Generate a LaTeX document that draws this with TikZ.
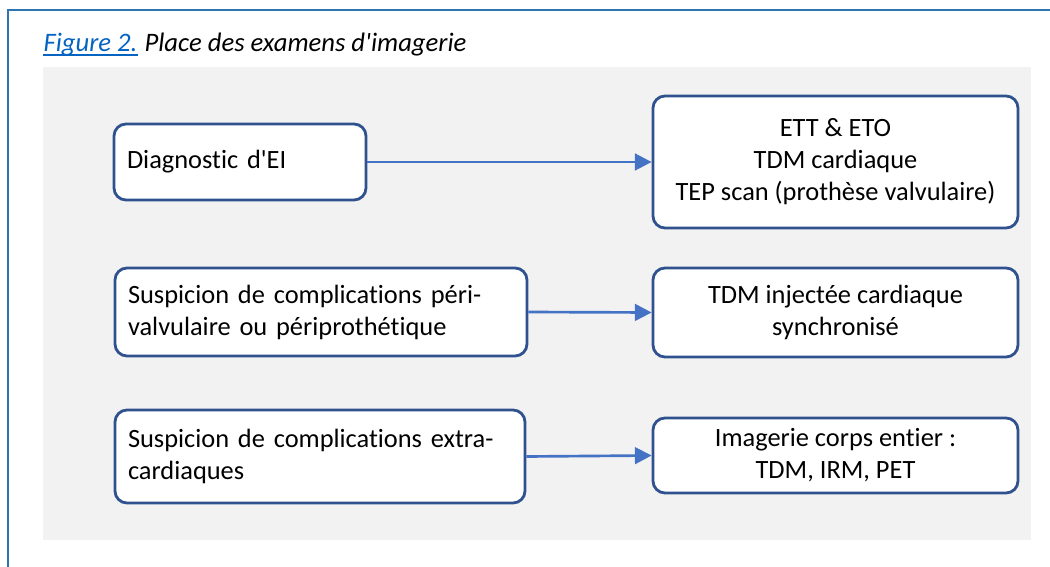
\documentclass[tikz,border=0pt]{standalone}
\usepackage{fontspec}
\setmainfont{Carlito}[Ligatures={TeX,NoCommon}]
\usepackage{xcolor}
\usepackage{tikz}
\usetikzlibrary{arrows.meta}

\definecolor{framecol}{RGB}{46,117,182}
\definecolor{boxcol}{RGB}{47,82,143}
\definecolor{arrcol}{RGB}{68,114,196}
\definecolor{graybg}{RGB}{242,242,242}
\definecolor{linkcol}{RGB}{5,99,193}

\begin{document}
\begin{tikzpicture}[x=0.75pt, y=-0.75pt, thick,
  box/.style = {draw=boxcol, line width=2.1pt, fill=white, rounded corners=9pt, inner xsep=9.75pt, inner ysep=0pt, font=\fontsize{19.8}{24}\selectfont},
  lbox/.style = {box, align=left},
  rbox/.style = {box, align=center, minimum width=273.75pt},
  legende/.style = {anchor=base west, inner sep=0pt, font=\fontsize{20}{24}\selectfont\itshape},
  arr/.style = {-{Triangle[length=12.5pt,width=12.5pt]}, draw=arrcol, line width=2pt}]
\useasboundingbox (0,0) rectangle (1050,567);
\fill[graybg] (43,67) rectangle (1031,540);
\draw[framecol, line width=1.5pt] (8,567) -- (8,10) -- (1050,10);

% legende
\node[legende, text=linkcol] (fig) at (43,52) {Figure 2.};
\node[legende] (titre) at ([xshift=4.5pt]fig.base east) {Place des examens d\textquotesingle imagerie};
\draw[linkcol, line width=1.1pt] ([yshift=-2.4pt]fig.base west) -- ([yshift=-2.4pt]fig.base east);

% cases
\node[lbox, text width=169.5pt, minimum height=57pt] (diag) at (240,162) {Diagnostic d\textquotesingle EI};
\node[rbox, minimum height=99pt] (ett) at (835.5,162) {ETT \& ETO\\TDM cardiaque\\TEP scan (prothèse valvulaire)};
\node[lbox, text width=289.5pt, minimum height=66pt] (peri) at (321,312) {Suspicion de complications péri-\\valvulaire ou périprothétique};
\node[rbox, minimum height=66.75pt] (tdm) at (835.5,312.5) {TDM injectée cardiaque\\synchronisé};
\node[lbox, text width=288pt, minimum height=69.75pt] (extra) at (320,456.5) {Suspicion de complications extra-\\cardiaques};
\node[rbox, minimum height=56.25pt] (imag) at (835.5,455.5) {Imagerie corps entier :\\TDM, IRM, PET};

\draw[arr] (diag.east) -- (ett.west);
\draw[arr] (peri.east) -- (tdm.west);
\draw[arr] (extra.east) -- (imag.west);
\end{tikzpicture}
\end{document}
